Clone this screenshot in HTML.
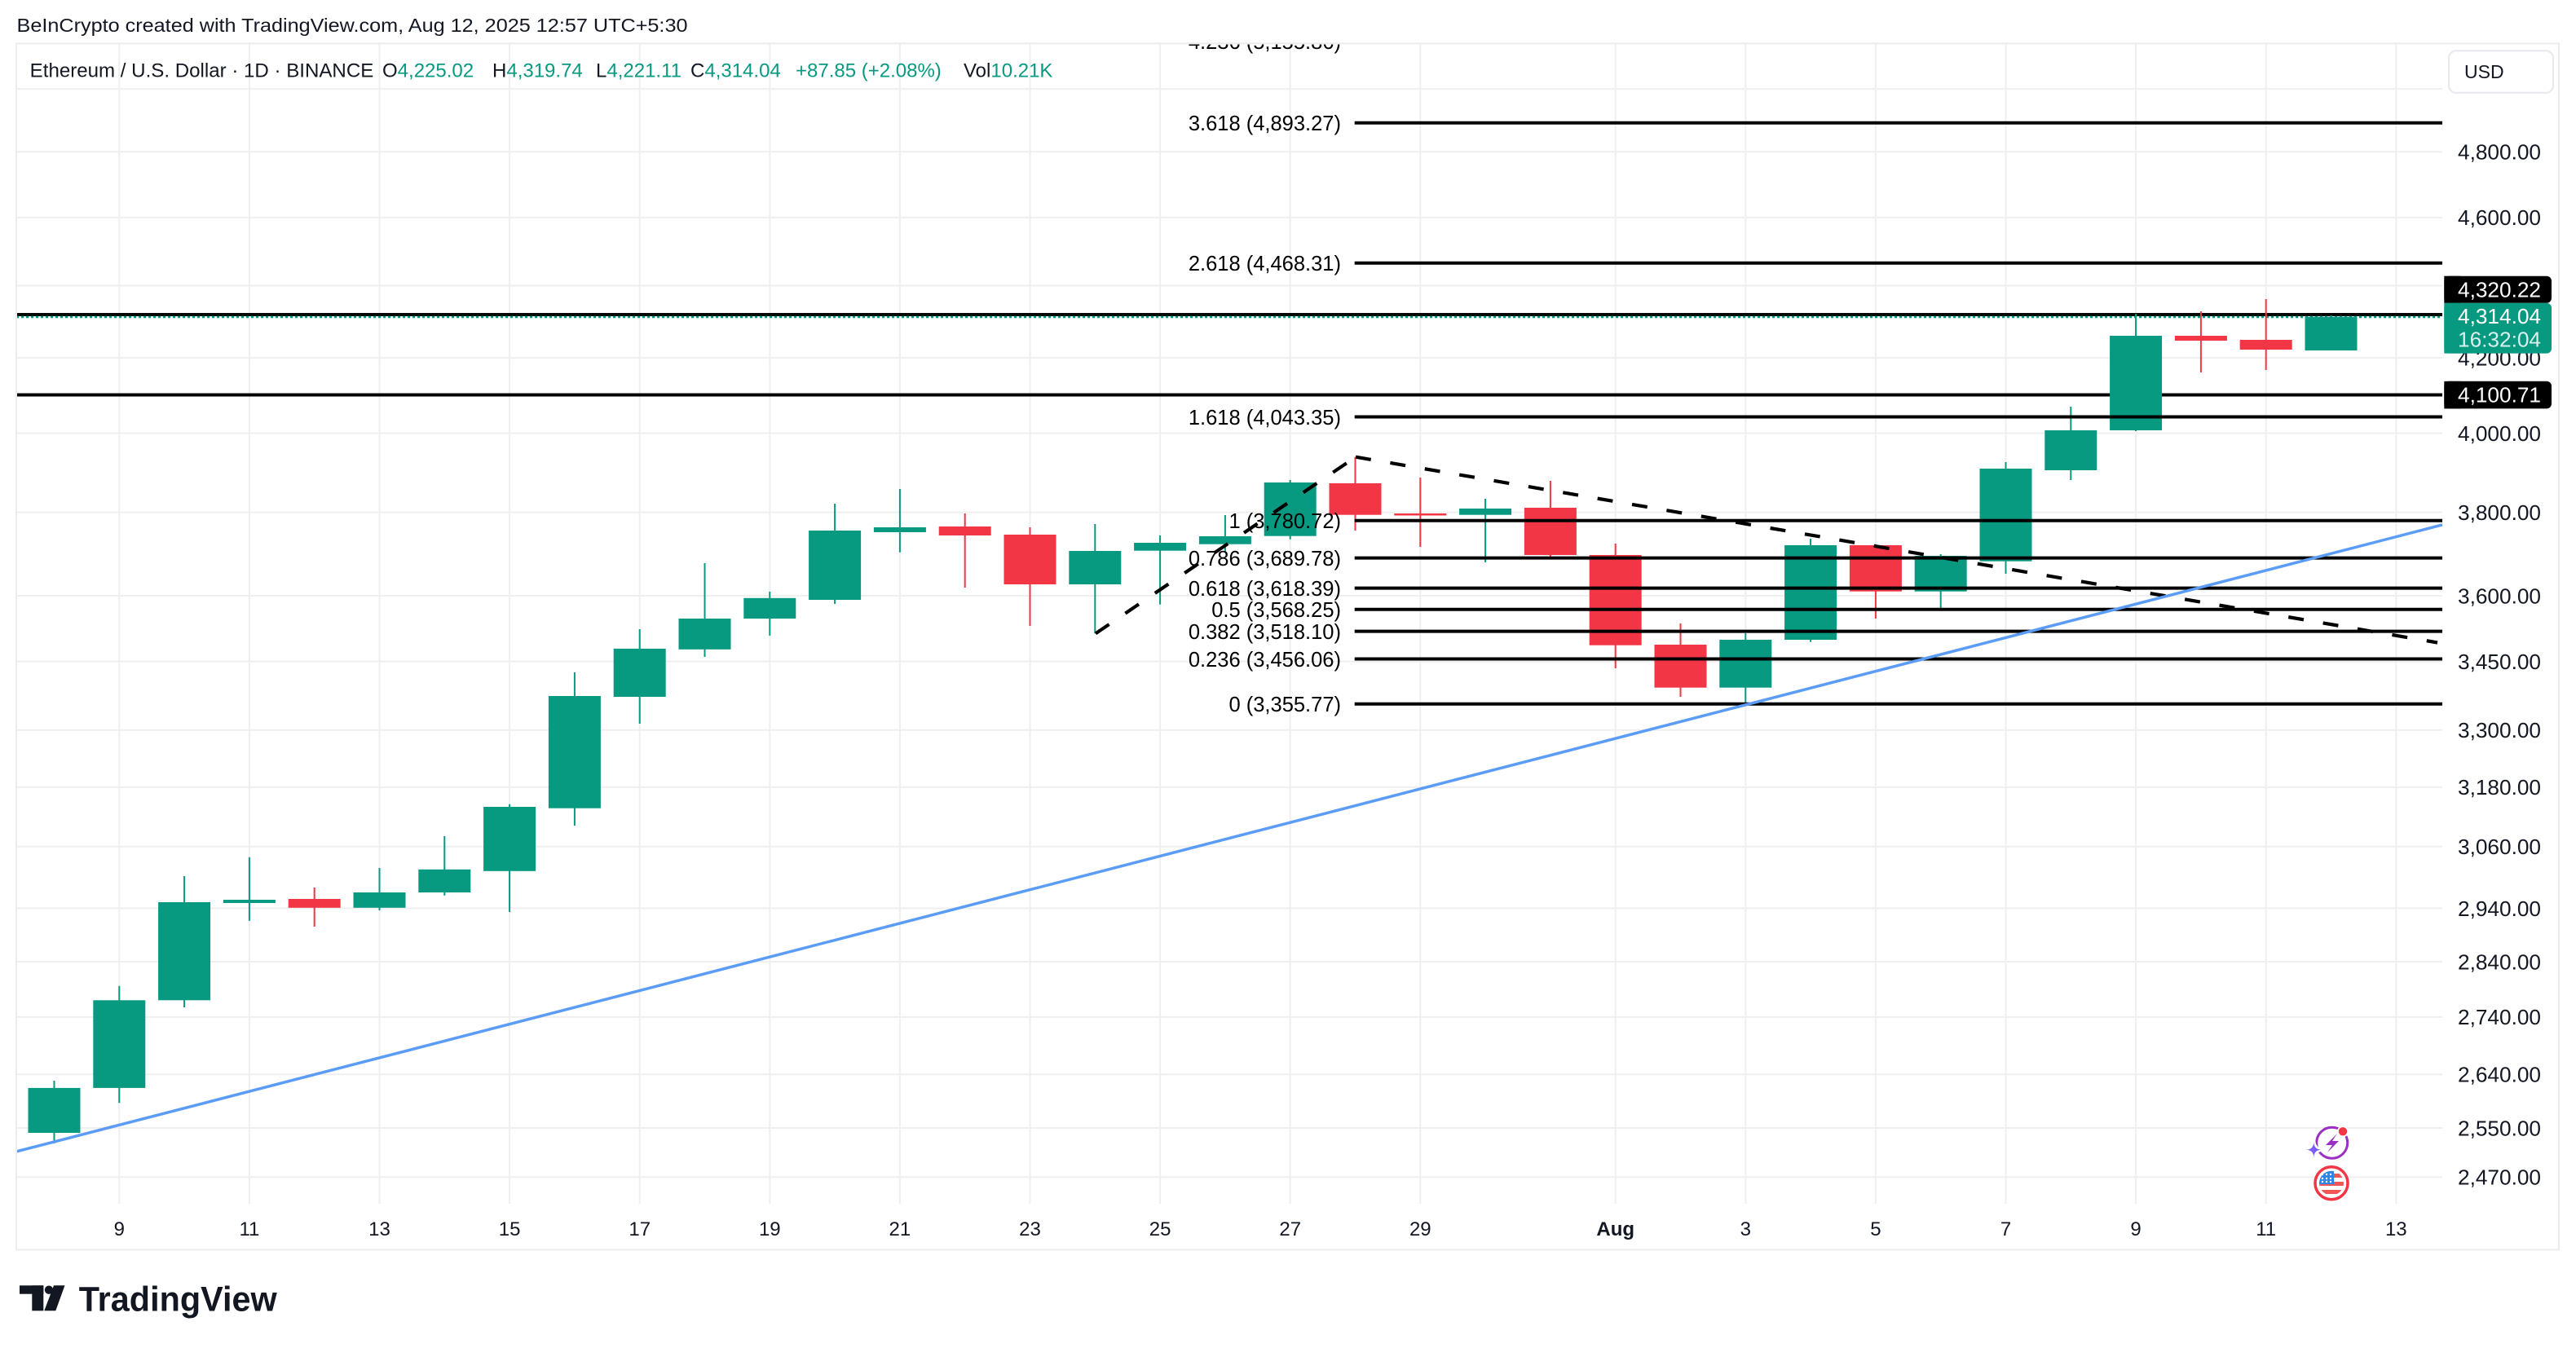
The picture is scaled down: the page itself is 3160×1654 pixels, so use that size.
<!DOCTYPE html>
<html>
<head>
<meta charset="utf-8">
<style>
html,body{margin:0;padding:0;background:#ffffff;}
svg{display:block;}
text{font-family:"Liberation Sans",Arial,sans-serif;}
</style>
</head>
<body>
<svg xmlns="http://www.w3.org/2000/svg" width="3160" height="1654" viewBox="0 0 3160 1654">
<defs>
  <clipPath id="plot"><rect x="21" y="54.5" width="2975" height="1423"/></clipPath>
  <clipPath id="flag"><circle cx="2860" cy="1451.7" r="15"/></clipPath>
</defs>
<rect x="0" y="0" width="3160" height="1654" fill="#ffffff"/>

<!-- header -->
<text x="20.5" y="39" font-size="23" fill="#131722" textLength="823" lengthAdjust="spacingAndGlyphs">BeInCrypto created with TradingView.com, Aug 12, 2025 12:57 UTC+5:30</text>

<!-- grid -->
<g stroke="#efeff0" stroke-width="2">
  <line x1="20" y1="109.1" x2="2996" y2="109.1"/>
  <line x1="20" y1="186.3" x2="2996" y2="186.3"/>
  <line x1="20" y1="266.9" x2="2996" y2="266.9"/>
  <line x1="20" y1="350.5" x2="2996" y2="350.5"/>
  <line x1="20" y1="439.1" x2="2996" y2="439.1"/>
  <line x1="20" y1="531.5" x2="2996" y2="531.5"/>
  <line x1="20" y1="628.6" x2="2996" y2="628.6"/>
  <line x1="20" y1="731" x2="2996" y2="731"/>
  <line x1="20" y1="811.6" x2="2996" y2="811.6"/>
  <line x1="20" y1="895.7" x2="2996" y2="895.7"/>
  <line x1="20" y1="965.9" x2="2996" y2="965.9"/>
  <line x1="20" y1="1038.7" x2="2996" y2="1038.7"/>
  <line x1="20" y1="1114.5" x2="2996" y2="1114.5"/>
  <line x1="20" y1="1180" x2="2996" y2="1180"/>
  <line x1="20" y1="1247.9" x2="2996" y2="1247.9"/>
  <line x1="20" y1="1318.3" x2="2996" y2="1318.3"/>
  <line x1="20" y1="1384" x2="2996" y2="1384"/>
  <line x1="20" y1="1444.3" x2="2996" y2="1444.3"/>
  <line x1="146.3" y1="54" x2="146.3" y2="1477"/>
  <line x1="305.9" y1="54" x2="305.9" y2="1477"/>
  <line x1="465.5" y1="54" x2="465.5" y2="1477"/>
  <line x1="625.1" y1="54" x2="625.1" y2="1477"/>
  <line x1="784.7" y1="54" x2="784.7" y2="1477"/>
  <line x1="944.3" y1="54" x2="944.3" y2="1477"/>
  <line x1="1103.9" y1="54" x2="1103.9" y2="1477"/>
  <line x1="1263.5" y1="54" x2="1263.5" y2="1477"/>
  <line x1="1423.1" y1="54" x2="1423.1" y2="1477"/>
  <line x1="1582.7" y1="54" x2="1582.7" y2="1477"/>
  <line x1="1742.3" y1="54" x2="1742.3" y2="1477"/>
  <line x1="1981.7" y1="54" x2="1981.7" y2="1477"/>
  <line x1="2141.3" y1="54" x2="2141.3" y2="1477"/>
  <line x1="2300.9" y1="54" x2="2300.9" y2="1477"/>
  <line x1="2460.5" y1="54" x2="2460.5" y2="1477"/>
  <line x1="2620.1" y1="54" x2="2620.1" y2="1477"/>
  <line x1="2779.7" y1="54" x2="2779.7" y2="1477"/>
  <line x1="2939.3" y1="54" x2="2939.3" y2="1477"/>
</g>

<!-- pane border -->
<rect x="20" y="53.3" width="3119" height="1480" fill="none" stroke="#ececec" stroke-width="2"/>

<!-- legend -->
<text x="36.7" y="94.3" font-size="24" fill="#131722" textLength="421.6" lengthAdjust="spacingAndGlyphs">Ethereum / U.S. Dollar · 1D · BINANCE</text>
<text x="469" y="94.3" font-size="24" fill="#131722">O<tspan fill="#089981">4,225.02</tspan></text>
<text x="604" y="94.3" font-size="24" fill="#131722">H<tspan fill="#089981">4,319.74</tspan></text>
<text x="731" y="94.3" font-size="24" fill="#131722">L<tspan fill="#089981">4,221.11</tspan></text>
<text x="847" y="94.3" font-size="24" fill="#131722">C<tspan fill="#089981">4,314.04</tspan></text>
<text x="976" y="94.3" font-size="24" fill="#089981">+87.85 (+2.08%)</text>
<text x="1182" y="94.3" font-size="24" fill="#131722">Vol<tspan fill="#089981">10.21K</tspan></text>

<g clip-path="url(#plot)">
  <!-- full width horizontal lines -->
  <line x1="20" y1="386" x2="2996" y2="386" stroke="#000" stroke-width="4"/>
  <line x1="20" y1="484.5" x2="2996" y2="484.5" stroke="#000" stroke-width="4"/>
  <line x1="20" y1="389" x2="2996" y2="389" stroke="#089981" stroke-width="2.5" stroke-dasharray="3 3"/>

  <!-- wicks -->
  <g fill="#089981">
    <rect x="65.5" y="1326" width="2" height="77"/>
    <rect x="145.3" y="1209.8" width="2" height="143.5"/>
    <rect x="225.1" y="1075" width="2" height="161"/>
    <rect x="304.9" y="1051.8" width="2" height="78"/>
    <rect x="464.5" y="1064.9" width="2" height="52.1"/>
    <rect x="544.3" y="1026" width="2" height="72.8"/>
    <rect x="624.1" y="986.8" width="2" height="132.2"/>
    <rect x="703.9" y="825" width="2" height="188"/>
    <rect x="783.7" y="772" width="2" height="116"/>
    <rect x="863.5" y="691" width="2" height="115"/>
    <rect x="943.3" y="726" width="2" height="53.9"/>
    <rect x="1023.1" y="618" width="2" height="123"/>
    <rect x="1102.9" y="600" width="2" height="77.7"/>
    <rect x="1342.3" y="643" width="2" height="134.3"/>
    <rect x="1422.1" y="657" width="2" height="84.7"/>
    <rect x="1501.9" y="632" width="2" height="46.3"/>
    <rect x="1581.7" y="589" width="2" height="72.7"/>
    <rect x="1821.1" y="612" width="2" height="78"/>
    <rect x="2140.3" y="777" width="2" height="84.7"/>
    <rect x="2220.1" y="661" width="2" height="126.7"/>
    <rect x="2379.7" y="680" width="2" height="66"/>
    <rect x="2459.5" y="567" width="2" height="137"/>
    <rect x="2539.3" y="499" width="2" height="90"/>
    <rect x="2619.1" y="385" width="2" height="144"/>
    <rect x="2858.5" y="387" width="2" height="43"/>
  </g>
  <g fill="#f23645">
    <rect x="384.7" y="1089" width="2" height="48"/>
    <rect x="1182.7" y="630" width="2" height="91"/>
    <rect x="1262.5" y="647" width="2" height="121"/>
    <rect x="1661.5" y="560.7" width="2" height="90.3"/>
    <rect x="1741.3" y="586" width="2" height="85"/>
    <rect x="1900.9" y="590" width="2" height="93"/>
    <rect x="1980.7" y="667" width="2" height="153"/>
    <rect x="2060.5" y="765" width="2" height="90"/>
    <rect x="2299.9" y="667.7" width="2" height="91.3"/>
    <rect x="2698.9" y="382" width="2" height="75"/>
    <rect x="2778.7" y="367" width="2" height="87"/>
  </g>
  <!-- bodies -->
  <g fill="#089981">
    <rect x="34.5" y="1334.9" width="64" height="55.1"/>
    <rect x="114.3" y="1227.3" width="64" height="107.6"/>
    <rect x="194.1" y="1107" width="64" height="120.3"/>
    <rect x="273.9" y="1104" width="64" height="4"/>
    <rect x="433.5" y="1095" width="64" height="18.8"/>
    <rect x="513.3" y="1066.8" width="64" height="28.2"/>
    <rect x="593.1" y="990" width="64" height="78.8"/>
    <rect x="672.9" y="854" width="64" height="137.7"/>
    <rect x="752.7" y="795.9" width="64" height="59.1"/>
    <rect x="832.5" y="759" width="64" height="37.8"/>
    <rect x="912.3" y="733.8" width="64" height="25.2"/>
    <rect x="992.1" y="651" width="64" height="85"/>
    <rect x="1071.9" y="647" width="64" height="6"/>
    <rect x="1311.3" y="676" width="64" height="41"/>
    <rect x="1391.1" y="666" width="64" height="9.7"/>
    <rect x="1470.9" y="658" width="64" height="9.7"/>
    <rect x="1550.7" y="592" width="64" height="65.7"/>
    <rect x="1790.1" y="624" width="64" height="7.7"/>
    <rect x="2109.3" y="785" width="64" height="58.7"/>
    <rect x="2189.1" y="669" width="64" height="116"/>
    <rect x="2348.7" y="682" width="64" height="43.7"/>
    <rect x="2428.5" y="575" width="64" height="113.7"/>
    <rect x="2508.3" y="528" width="64" height="49"/>
    <rect x="2588.1" y="412" width="64" height="116"/>
    <rect x="2827.5" y="388.7" width="64" height="41.3"/>
  </g>
  <g fill="#f23645">
    <rect x="353.7" y="1103" width="64" height="10.8"/>
    <rect x="1151.7" y="646" width="64" height="11"/>
    <rect x="1231.5" y="656" width="64" height="61"/>
    <rect x="1630.5" y="593" width="64" height="38.7"/>
    <rect x="1710.3" y="630" width="64" height="2.5"/>
    <rect x="1869.9" y="623" width="64" height="58"/>
    <rect x="1949.7" y="681" width="64" height="110.7"/>
    <rect x="2029.5" y="791" width="64" height="52.7"/>
    <rect x="2268.9" y="669" width="64" height="56.7"/>
    <rect x="2667.9" y="412" width="64" height="6"/>
    <rect x="2747.7" y="417" width="64" height="12"/>
  </g>

  <!-- fib lines -->
  <g stroke="#000" stroke-width="4">
    <line x1="1661.7" y1="150.7" x2="2996" y2="150.7"/>
    <line x1="1661.7" y1="322.7" x2="2996" y2="322.7"/>
    <line x1="1661.7" y1="511.5" x2="2996" y2="511.5"/>
    <line x1="1661.7" y1="638.7" x2="2996" y2="638.7"/>
    <line x1="1661.7" y1="684.6" x2="2996" y2="684.6"/>
    <line x1="1661.7" y1="721.6" x2="2996" y2="721.6"/>
    <line x1="1661.7" y1="747.8" x2="2996" y2="747.8"/>
    <line x1="1661.7" y1="774.6" x2="2996" y2="774.6"/>
    <line x1="1661.7" y1="808.5" x2="2996" y2="808.5"/>
    <line x1="1661.7" y1="863.8" x2="2996" y2="863.8"/>
  </g>
  <g font-size="25.5" fill="#000" text-anchor="end">
    <text x="1645" y="60.2">4.236 (5,155.86)</text>
    <text x="1645" y="160">3.618 (4,893.27)</text>
    <text x="1645" y="332">2.618 (4,468.31)</text>
    <text x="1645" y="521">1.618 (4,043.35)</text>
    <text x="1645" y="648">1 (3,780.72)</text>
    <text x="1645" y="694">0.786 (3,689.78)</text>
    <text x="1645" y="731">0.618 (3,618.39)</text>
    <text x="1645" y="757">0.5 (3,568.25)</text>
    <text x="1645" y="784">0.382 (3,518.10)</text>
    <text x="1645" y="818">0.236 (3,456.06)</text>
    <text x="1645" y="873">0 (3,355.77)</text>
  </g>

  <!-- dashed lines -->
  <line x1="1344" y1="777.3" x2="1663" y2="560.7" stroke="#000" stroke-width="4.2" stroke-dasharray="20 24"/>
  <line x1="1663" y1="560.7" x2="2990" y2="788.5" stroke="#000" stroke-width="4.2" stroke-dasharray="19 24"/>

  <!-- blue trendline -->
  <line x1="20" y1="1413" x2="2996" y2="644" stroke="#5b9cf6" stroke-width="3.5"/>

  <!-- icons -->
  <circle cx="2860.7" cy="1402.3" r="19" fill="none" stroke="#9b2fc4" stroke-width="3"/>
  <path d="M2867 1391 L2853 1405 L2861 1405 L2855 1414 L2869 1400 L2861 1400 Z" fill="#9b2fc4"/>
  <circle cx="2874" cy="1388.3" r="7" fill="#ffffff"/>
  <circle cx="2874" cy="1388.3" r="5.2" fill="#f23645"/>
  <path d="M2838.3 1398.7 Q2838.3 1410.7 2850.3 1410.7 Q2838.3 1410.7 2838.3 1422.7 Q2838.3 1410.7 2826.3 1410.7 Q2838.3 1410.7 2838.3 1398.7 Z" fill="#ffffff" stroke="#ffffff" stroke-width="4"/>
  <path d="M2838.3 1400.7 Q2838.3 1410.7 2848.3 1410.7 Q2838.3 1410.7 2838.3 1420.7 Q2838.3 1410.7 2828.3 1410.7 Q2838.3 1410.7 2838.3 1400.7 Z" fill="#7c5cff"/>
  <circle cx="2860" cy="1451.7" r="20" fill="#ffffff" stroke="#f23645" stroke-width="3.5"/>
  <g clip-path="url(#flag)">
    <rect x="2844" y="1436" width="32" height="32" fill="#ffffff"/>
    <rect x="2844" y="1440" width="32" height="5" fill="#f05656"/>
    <rect x="2844" y="1450" width="32" height="5" fill="#f05656"/>
    <rect x="2844" y="1460" width="32" height="5" fill="#f05656"/>
    <rect x="2844" y="1436" width="19" height="17" fill="#2f86e8"/>
    <g fill="#ffffff">
      <circle cx="2849" cy="1441" r="1.2"/><circle cx="2854" cy="1441" r="1.2"/><circle cx="2859" cy="1441" r="1.2"/>
      <circle cx="2849" cy="1446" r="1.2"/><circle cx="2854" cy="1446" r="1.2"/><circle cx="2859" cy="1446" r="1.2"/>
      <circle cx="2849" cy="1450" r="1.2"/><circle cx="2854" cy="1450" r="1.2"/><circle cx="2859" cy="1450" r="1.2"/>
    </g>
  </g>
</g>

<!-- price axis labels -->
<g font-size="26" fill="#131722">
  <text x="3015" y="195.6" textLength="102" lengthAdjust="spacingAndGlyphs">4,800.00</text>
  <text x="3015" y="276.2" textLength="102" lengthAdjust="spacingAndGlyphs">4,600.00</text>
  <text x="3015" y="448.4" textLength="102" lengthAdjust="spacingAndGlyphs">4,200.00</text>
  <text x="3015" y="540.8" textLength="102" lengthAdjust="spacingAndGlyphs">4,000.00</text>
  <text x="3015" y="637.9" textLength="102" lengthAdjust="spacingAndGlyphs">3,800.00</text>
  <text x="3015" y="740.3" textLength="102" lengthAdjust="spacingAndGlyphs">3,600.00</text>
  <text x="3015" y="820.9" textLength="102" lengthAdjust="spacingAndGlyphs">3,450.00</text>
  <text x="3015" y="905" textLength="102" lengthAdjust="spacingAndGlyphs">3,300.00</text>
  <text x="3015" y="975.2" textLength="102" lengthAdjust="spacingAndGlyphs">3,180.00</text>
  <text x="3015" y="1048" textLength="102" lengthAdjust="spacingAndGlyphs">3,060.00</text>
  <text x="3015" y="1123.8" textLength="102" lengthAdjust="spacingAndGlyphs">2,940.00</text>
  <text x="3015" y="1189.3" textLength="102" lengthAdjust="spacingAndGlyphs">2,840.00</text>
  <text x="3015" y="1257.2" textLength="102" lengthAdjust="spacingAndGlyphs">2,740.00</text>
  <text x="3015" y="1327.6" textLength="102" lengthAdjust="spacingAndGlyphs">2,640.00</text>
  <text x="3015" y="1393.3" textLength="102" lengthAdjust="spacingAndGlyphs">2,550.00</text>
  <text x="3015" y="1453.6" textLength="102" lengthAdjust="spacingAndGlyphs">2,470.00</text>
</g>

<!-- USD button -->
<rect x="3004" y="62.3" width="128" height="51.5" rx="9" fill="#ffffff" stroke="#e6e8ee" stroke-width="2"/>
<text x="3023" y="96" font-size="23" fill="#131722">USD</text>

<!-- price markers -->
<rect x="2998.3" y="338.7" width="131.7" height="33.1" rx="6" fill="#000"/>
<rect x="2998.3" y="338.7" width="20" height="33.1" fill="#000"/>
<text x="3015" y="364.3" font-size="26" fill="#ffffff" textLength="102" lengthAdjust="spacingAndGlyphs">4,320.22</text>

<rect x="2998.3" y="371.8" width="131.7" height="61.8" rx="6" fill="#089981"/>
<rect x="2998.3" y="371.8" width="20" height="61.8" fill="#089981"/>
<text x="3015" y="396.8" font-size="26" fill="#ffffff" textLength="102" lengthAdjust="spacingAndGlyphs">4,314.04</text>
<text x="3015" y="425.6" font-size="26" fill="#ffffff" fill-opacity="0.85" textLength="102" lengthAdjust="spacingAndGlyphs">16:32:04</text>

<rect x="2998.3" y="467.8" width="131.7" height="33.6" rx="6" fill="#000"/>
<rect x="2998.3" y="467.8" width="20" height="33.6" fill="#000"/>
<text x="3015" y="493.5" font-size="26" fill="#ffffff" textLength="102" lengthAdjust="spacingAndGlyphs">4,100.71</text>

<!-- time axis -->
<g font-size="24" fill="#131722" text-anchor="middle">
  <text x="146.3" y="1516">9</text>
  <text x="305.9" y="1516">11</text>
  <text x="465.5" y="1516">13</text>
  <text x="625.1" y="1516">15</text>
  <text x="784.7" y="1516">17</text>
  <text x="944.3" y="1516">19</text>
  <text x="1103.9" y="1516">21</text>
  <text x="1263.5" y="1516">23</text>
  <text x="1423.1" y="1516">25</text>
  <text x="1582.7" y="1516">27</text>
  <text x="1742.3" y="1516">29</text>
  <text x="1981.7" y="1516" font-weight="bold">Aug</text>
  <text x="2141.3" y="1516">3</text>
  <text x="2300.9" y="1516">5</text>
  <text x="2460.5" y="1516">7</text>
  <text x="2620.1" y="1516">9</text>
  <text x="2779.7" y="1516">11</text>
  <text x="2939.3" y="1516">13</text>
</g>

<!-- TradingView logo -->
<g fill="#131722">
  <rect x="24" y="1577.3" width="29.3" height="10.4"/>
  <rect x="39.3" y="1577.3" width="14" height="31"/>
  <circle cx="60" cy="1582.7" r="5.2"/>
  <polygon points="66,1577.3 79.5,1577.3 68.3,1608.3 54.3,1608.3"/>
</g>
<text x="96.7" y="1608.3" font-size="43" font-weight="bold" fill="#131722" textLength="243" lengthAdjust="spacingAndGlyphs">TradingView</text>
</svg>
</body>
</html>
